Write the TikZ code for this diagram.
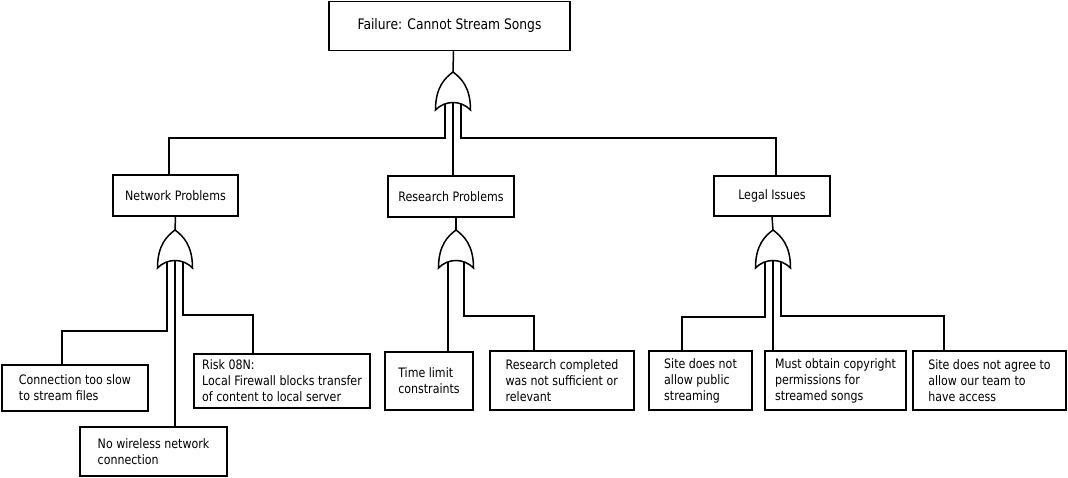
\documentclass[tikz,border=0pt]{standalone}
\usepackage{fontspec}
\setmainfont{DejaVu Sans}[FakeStretch=0.85]
\tikzset{
  box/.style={draw, line width=1.5pt, align=left, inner sep=2pt, font=\fontsize{13}{16}\selectfont},
  orgate/.pic={
    \draw[line width=1.5pt, fill=white] (0,0) .. controls (8,6) and (17.5,15) .. (17.5,38)
      .. controls (8,28) and (-8,28) .. (-17.5,38) .. controls (-17.5,15) and (-8,6) .. (0,0) -- cycle;
    \coordinate (-out) at (0,0);
    \coordinate (-l) at (-8,32);
    \coordinate (-m) at (0,30.5);
    \coordinate (-r) at (8,32);
  }
}
\begin{document}
\begin{tikzpicture}[x=1pt, y=-1pt, line width=1.5pt]
        \useasboundingbox (0,0) rectangle (1068,478);
        \node[box, minimum width=241, minimum height=49, font=\fontsize{14.5}{17}\selectfont] (fail) at (449.5,26) {Failure: Cannot Stream Songs};
        \node[box, minimum width=125, minimum height=41] (net) at (175.5,195.5) {Network Problems};
        \node[box, minimum width=126, minimum height=41] (res) at (451,196.5) {Research Problems};
        \node[box, minimum width=116, minimum height=40] (legal) at (772,196) {Legal Issues};
        \node[box, minimum width=146, minimum height=46] (slow) at (75,388) {Connection too slow\\to stream files};
        \node[box, minimum width=176, minimum height=54] (risk) at (282,381) {Risk 08N:\\Local Firewall blocks transfer\\of content to local server};
        \node[box, minimum width=147, minimum height=49] (wifi) at (153.5,451.5) {No wireless network\\connection};
        \node[box, minimum width=88, minimum height=58] (time) at (429,381) {Time limit\\constraints};
        \node[box, minimum width=144, minimum height=59] (done) at (562,380.5) {Research completed\\was not sufficient or\\relevant};
        \node[box, minimum width=103, minimum height=59] (pub) at (700.5,380.5) {Site does not\\allow public\\streaming};
        \node[box, minimum width=141, minimum height=59] (copy) at (835.5,380.5) {Must obtain copyright\\permissions for\\streamed songs};
        \node[box, minimum width=153, minimum height=59] (agree) at (989.5,380.5) {Site does not agree to\\allow our team to\\have access};
        \pic (g0) at (453,72) {orgate};
        \pic (g1) at (175,230) {orgate};
        \pic (g2) at (456,230) {orgate};
        \pic (g3) at (773,230) {orgate};
        \draw ([xshift=4pt]fail.south)--(g0-out);
        \draw (g0-l)--++(0,34)-|([xshift=-6.5pt]net.north);
        \draw (g0-m)--(g0-m |- res.north);
        \draw (g0-r)--++(0,34)-|([xshift=4pt]legal.north);
        \draw (net.south)--(g1-out);
        \draw (g1-l)--++(0,69)-|([xshift=-13pt]slow.north);
        \draw (g1-m)--(g1-m |- wifi.north);
        \draw (g1-r)--++(0,53)-|([xshift=-29pt]risk.north);
        \draw ([xshift=5pt]res.south)--(g2-out);
        \draw (g2-l)--(g2-l |- time.north);
        \draw (g2-r)--++(0,54)-|([xshift=-28pt]done.north);
        \draw (legal.south)--(g3-out);
        \draw (g3-l)--++(0,55)-|([xshift=-18.5pt]pub.north);
        \draw (g3-m)--(g3-m |- copy.north);
        \draw (g3-r)--++(0,54)-|([xshift=-45.5pt]agree.north);
\end{tikzpicture}
\end{document}
